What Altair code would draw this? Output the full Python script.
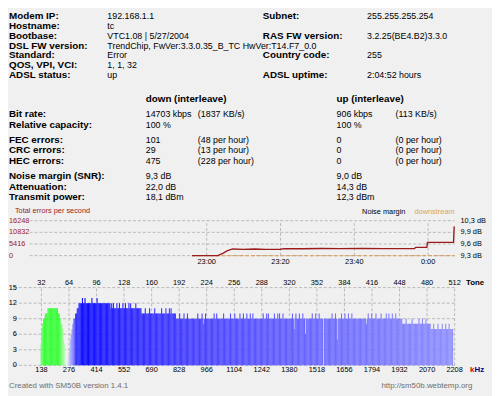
import altair as alt
import pandas as pd

FONT = "Liberation Sans"
BG = "#f0f0f0"
GRID = "#b9b9b9"
DARK_RED = "#9c1c1c"
TAN = "#d8a468"

# ---------------- data: info block ----------------
info_lines = [0, 1, 2, 3, 4, 5, 6]
info_labels = ["Modem IP:", "Hostname:", "Bootbase:", "DSL FW version:", "Standard:",
               "QOS, VPI, VCI:", "ADSL status:"]
info_values = ["192.168.1.1", "tc", "VTC1.08 | 5/27/2004",
               "TrendChip, FwVer:3.3.0.35_B_TC HwVer:T14.F7_0.0", "Error", "1, 1, 32", "up"]
info2_lines = [0, 2, 4, 6]
info2_labels = ["Subnet:", "RAS FW version:", "Country code:", "ADSL uptime:"]
info2_values = ["255.255.255.254", "3.2.25(BE4.B2)3.3.0", "255", "2:04:52 hours"]

# ---------------- data: line statistics ----------------
stat_header_line = [0]
stat_lines = [1.5, 2.5, 4, 5, 6, 7.5, 8.5, 9.5]
stat_labels = ["Bit rate:", "Relative capacity:", "FEC errors:", "CRC errors:", "HEC errors:",
               "Noise margin (SNR):", "Attenuation:", "Transmit power:"]
down_values = ["14703 kbps", "100 %", "101", "29", "475", "9,3 dB", "22,0 dB", "18,1 dBm"]
down_extra = ["(1837 KB/s)", "", "(48 per hour)", "(13 per hour)", "(228 per hour)", "", "", ""]
up_values = ["906 kbps", "100 %", "0", "0", "0", "9,0 dB", "14,3 dB", "12,3 dBm"]
up_extra = ["(113 KB/s)", "", "(0 per hour)", "(0 per hour)", "(0 per hour)", "", "", ""]

# ---------------- data: error / noise margin history ----------------
err_times = ["22:56:00", "23:03:00", "23:04:30", "23:05:30", "23:07:00", "23:10:00", "23:13:00",
             "23:16:00", "23:20:00", "23:21:00", "23:26:00", "23:31:00", "23:36:00", "23:42:00",
             "23:48:00", "23:56:20", "23:56:40", "23:59:40", "23:59:50", "00:06:55", "00:07:05"]
err_values = [0, 0, 1200, 2200, 3100, 2900, 3050, 2900, 2950, 3250, 3200, 3300, 3250, 3300,
              3250, 3300, 3850, 3850, 6150, 6150, 13600]
nm_times = ["22:56:00", "00:07:12"]
nm_values = [9.3, 9.3]
time_domain = ["22:12:00", "00:07:12"]
time_ticks = ["23:00:00", "23:20:00", "23:40:00", "00:00:00"]
time_labels = ["23:00", "23:20", "23:40", "0:00"]
err_ticks = [16248, 10832, 5416, 0]
db_ticks = [10.3, 9.967, 9.633, 9.3]
db_labels = ["10,3 dB", "9,9 dB", "9,6 dB", "9,3 dB"]

# ---------------- data: bit loading per tone ----------------
up_tones = list(range(31, 60))
up_bits = [4, 7, 8, 9, 9, 10, 10, 10, 11, 11, 11, 11, 11, 11, 11, 11, 11, 11, 11, 11,
           10, 10, 9, 8, 8, 7, 5, 4, 2]
ramp_tones = list(range(62, 75))
ramp_bits = [1, 2, 3, 5, 6, 7, 8, 9, 9, 10, 10, 11, 11]
down_runs = [(75, 111, 12), (112, 147, 11), (148, 187, 10), (188, 450, 9), (451, 483, 8), (484, 509, 7)]
peak_tones = [79, 82, 90, 96, 113, 115, 119, 122, 126, 129, 133, 135, 141, 152, 157, 163, 171,
              176, 180, 182, 192, 197, 201, 213, 218, 222, 232, 235, 243, 251, 256, 262, 266,
              270, 274, 277, 289, 293, 295, 302, 306, 308, 312, 323, 327, 331, 335, 346, 350,
              354, 369, 373, 380, 384, 388, 392, 411, 415, 420, 426, 432, 435, 439, 443, 455,
              462, 470, 474, 478, 487, 492, 497, 501, 505]
dip_tones = [220, 325, 338, 359, 375, 409]
dip_bits = [8, 7, 6, 0, 5, 8]
bit_ticks = [15, 12, 9, 6, 3, 0]
tone_ticks = [32, 64, 96, 128, 160, 192, 224, 256, 288, 320, 352, 384, 416, 448, 480, 512]
khz_labels = ["138", "276", "414", "552", "690", "828", "966", "1104", "1242", "1380", "1518",
              "1656", "1794", "1932", "2070", "2208"]


def minutes(t):
    h, m, s = (int(p) for p in t.split(":"))
    if h < 12:
        h += 24
    return (h - 22) * 60 + m + s / 60.0


# ---------------- scales ----------------
top_y = alt.Scale(domain=[0, 6], range=[5, 65], zero=False, nice=False)
stat_y = alt.Scale(domain=[0, 9.5], range=[89, 189], zero=False, nice=False)
time_x = alt.Scale(domain=[minutes(t) for t in time_domain], range=[22, 454], zero=False, nice=False)
err_y = alt.Scale(domain=[0, 16248], range=[248.5, 213], zero=False, nice=False)
db_y = alt.Scale(domain=[9.3, 10.3], range=[248.5, 213], zero=False, nice=False)
tone_x = alt.Scale(domain=[0, 512], range=[6, 454], zero=False, nice=False)
bit_y = alt.Scale(domain=[0, 15], range=[360, 281], zero=False, nice=False)

layers = []


def text_rows(lines, texts, scale, x, bold=False, size=9.0, color="#000000", align="left"):
    df = pd.DataFrame({"line": lines, "t": texts})
    df = df[df["t"] != ""]
    return alt.Chart(df).mark_text(
        align=align, baseline="middle", font=FONT, fontSize=size,
        fontWeight="bold" if bold else "normal", color=color
    ).encode(x=alt.value(x), y=alt.Y("line:Q", scale=scale, axis=None), text=alt.Text("t:N"))


def free_text(t, x, y, size=8.0, color="#000000", align="left", bold=False):
    return alt.Chart(pd.DataFrame({"t": [t]})).mark_text(
        align=align, baseline="middle", font=FONT, fontSize=size,
        fontWeight="bold" if bold else "normal", color=color
    ).encode(x=alt.value(x), y=alt.value(y), text="t:N")


# info block
layers.append(text_rows(info_lines, info_labels, top_y, 1, bold=True, size=10))
layers.append(text_rows(info_lines, info_values, top_y, 101))
layers.append(text_rows(info2_lines, info2_labels, top_y, 259, bold=True, size=10))
layers.append(text_rows(info2_lines, info2_values, top_y, 365))

# stats block
layers.append(text_rows(stat_header_line, ["down (interleave)"], stat_y, 140, bold=True, size=10))
layers.append(text_rows(stat_header_line, ["up (interleave)"], stat_y, 334, bold=True, size=10))
layers.append(text_rows(stat_lines, stat_labels, stat_y, 1, bold=True, size=10))
layers.append(text_rows(stat_lines, down_values, stat_y, 140))
layers.append(text_rows(stat_lines, down_extra, stat_y, 193))
layers.append(text_rows(stat_lines, up_values, stat_y, 334))
layers.append(text_rows(stat_lines, up_extra, stat_y, 394))

# ---------------- history chart ----------------
t0, t1 = minutes(time_domain[0]), minutes(time_domain[1])
hgrid = pd.DataFrame({"v": err_ticks, "a": t0, "b": t1})
layers.append(alt.Chart(hgrid).mark_rule(color=GRID, strokeDash=[3, 2], strokeWidth=1).encode(
    x=alt.X("a:Q", scale=time_x, axis=None), x2="b:Q", y=alt.Y("v:Q", scale=err_y, axis=None)))
vgrid = pd.DataFrame({"m": [minutes(t) for t in time_ticks], "lo": 0, "hi": err_ticks[0]})
layers.append(alt.Chart(vgrid).mark_rule(color=GRID, strokeDash=[3, 2], strokeWidth=1).encode(
    x=alt.X("m:Q", scale=time_x, axis=None), y=alt.Y("lo:Q", scale=err_y, axis=None), y2="hi:Q"))

nm_df = pd.DataFrame({"m": [minutes(t) for t in nm_times], "v": nm_values})
layers.append(alt.Chart(nm_df).mark_line(color=TAN, strokeDash=[4, 2], strokeWidth=1.3).encode(
    x=alt.X("m:Q", scale=time_x, axis=None), y=alt.Y("v:Q", scale=db_y, axis=None)))

err_df = pd.DataFrame({"m": [minutes(t) for t in err_times], "v": err_values,
                       "i": list(range(len(err_times)))})
layers.append(alt.Chart(err_df).mark_line(color=DARK_RED, strokeWidth=1.4).encode(
    x=alt.X("m:Q", scale=time_x, axis=None), y=alt.Y("v:Q", scale=err_y, axis=None),
    order=alt.Order("i:Q")))

lab_df = pd.DataFrame({"v": err_ticks, "t": [str(v) for v in err_ticks]})
layers.append(alt.Chart(lab_df).mark_text(align="left", baseline="middle", font=FONT, fontSize=7.5,
                                          color=DARK_RED).encode(
    x=alt.value(1), y=alt.Y("v:Q", scale=err_y, axis=None), text="t:N"))
db_df = pd.DataFrame({"v": db_ticks, "t": db_labels})
layers.append(alt.Chart(db_df).mark_text(align="left", baseline="middle", font=FONT, fontSize=7.5,
                                         color="#000000").encode(
    x=alt.value(460), y=alt.Y("v:Q", scale=db_y, axis=None), text="t:N"))
tl_df = pd.DataFrame({"m": [minutes(t) for t in time_ticks], "t": time_labels})
layers.append(alt.Chart(tl_df).mark_text(align="center", baseline="middle", font=FONT, fontSize=7.5,
                                         color="#000000").encode(
    x=alt.X("m:Q", scale=time_x, axis=None), y=alt.value(255), text="t:N"))
layers.append(free_text("Total errors per second", 7, 203.5, size=7.5, color=DARK_RED))
layers.append(free_text("Noise margin", 404, 204.5, size=7.5, color="#000000", align="right"))
layers.append(free_text("downstream", 454, 204.5, size=7.5, color=TAN, align="right"))

# ---------------- bit loading chart ----------------
bh = pd.DataFrame({"v": bit_ticks, "a": 0, "b": 512})
layers.append(alt.Chart(bh).mark_rule(color=GRID, strokeDash=[3, 2], strokeWidth=1).encode(
    x=alt.X("a:Q", scale=tone_x, axis=None), x2="b:Q", y=alt.Y("v:Q", scale=bit_y, axis=None)))
bv = pd.DataFrame({"tone": tone_ticks, "lo": 0, "hi": 15})
layers.append(alt.Chart(bv).mark_rule(color=GRID, strokeDash=[3, 2], strokeWidth=1).encode(
    x=alt.X("tone:Q", scale=tone_x, axis=None), y=alt.Y("lo:Q", scale=bit_y, axis=None), y2="hi:Q"))

down = {}
for t, v in zip(ramp_tones, ramp_bits):
    down[t] = v
for s, e, v in down_runs:
    for t in range(s, e + 1):
        down[t] = v
for t in peak_tones:
    down[t] += 1
for t, v in zip(dip_tones, dip_bits):
    down[t] = v
down_tones = sorted(down)


def bars(tones, bits, cscale):
    df = pd.DataFrame({"tone": tones, "end": [t + 1.25 for t in tones], "bits": bits, "zero": 0})
    return alt.Chart(df).mark_rect().encode(
        x=alt.X("tone:Q", scale=tone_x, axis=None), x2="end:Q",
        y=alt.Y("bits:Q", scale=bit_y, axis=None), y2="zero:Q",
        color=alt.Color("tone:Q", scale=cscale, legend=None))


layers.append(bars(up_tones, up_bits,
                   alt.Scale(domain=[31, 34, 53, 59], range=["#70ff70", "#38ff38", "#38ff38", "#c4ffc4"])))
layers.append(bars(down_tones, [down[t] for t in down_tones],
                   alt.Scale(domain=[62, 66, 72, 80, 512],
                             range=["#e4e4ff", "#a0a0ff", "#3030ff", "#0808ff", "#9090ff"])))

bl = pd.DataFrame({"v": bit_ticks, "t": [str(v) for v in bit_ticks]})
layers.append(alt.Chart(bl).mark_text(align="right", baseline="middle", font=FONT, fontSize=7.5,
                                      color="#000000").encode(
    x=alt.value(9), y=alt.Y("v:Q", scale=bit_y, axis=None), text="t:N"))
tt = pd.DataFrame({"tone": tone_ticks, "t": [str(v) for v in tone_ticks], "k": khz_labels})
layers.append(alt.Chart(tt).mark_text(align="center", baseline="middle", font=FONT, fontSize=7.5,
                                      color="#000000").encode(
    x=alt.X("tone:Q", scale=tone_x, axis=None), y=alt.value(276), text="t:N"))
layers.append(alt.Chart(tt).mark_text(align="center", baseline="middle", font=FONT, fontSize=7.5,
                                      color="#000000").encode(
    x=alt.X("tone:Q", scale=tone_x, axis=None), y=alt.value(365), text="k:N"))
layers.append(free_text("Tone", 484, 276, size=8, color="#000000", align="right", bold=True))
layers.append(free_text("Hz", 484, 365, size=8, color="#000080", align="right", bold=True))
layers.append(free_text("k", 474, 365, size=8, color="#cc0000", align="right", bold=True))

# footer
layers.append(free_text("Created with SM50B version 1.4.1", 1, 381, size=8, color="#6e6e6e"))
layers.append(free_text("http://sm50b.webtemp.org", 472, 381, size=8, color="#6e6e6e", align="right"))

chart = alt.layer(*layers).resolve_scale(
    x="independent", y="independent", color="independent"
).properties(
    width=492, height=388, autosize=alt.AutoSizeParams(type="none"), padding=0, background=BG
).configure_view(stroke=None)

chart.save("out.html", embed_options={"renderer": "svg", "actions": False})
